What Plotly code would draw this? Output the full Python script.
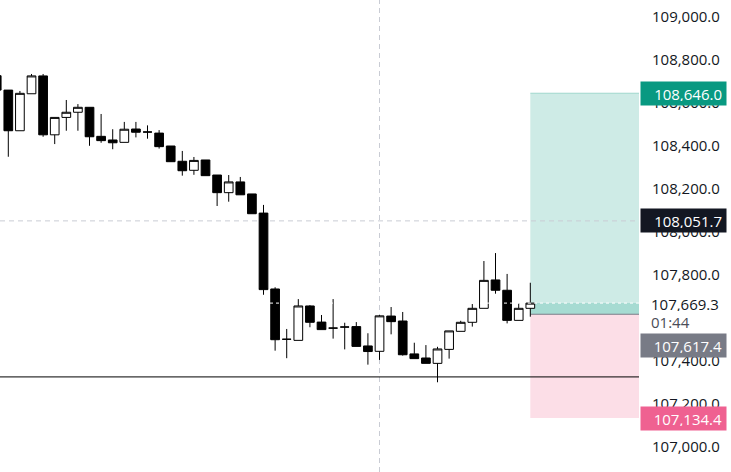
import plotly.graph_objects as go

# ---- data ----
idx = list(range(47))
opens = [108727, 108660, 108471, 108643, 108726, 108452, 108533, 108557, 108580, 108445,
         108428, 108417, 108479, 108465, 108460, 108400, 108329, 108287, 108335, 108265,
         108183, 108233, 108177, 108088, 107735, 107501, 107496, 107656, 107581, 107553,
         107558, 107560, 107470, 107445, 107609, 107586, 107433, 107414, 107389, 107454,
         107538, 107580, 107645, 107777, 107729, 107589, 107645]
highs = [108740, 108660, 108656, 108735, 108735, 108533, 108614, 108595, 108580, 108549,
         108478, 108512, 108512, 108496, 108474, 108400, 108377, 108349, 108335, 108265,
         108265, 108256, 108177, 108126, 107743, 107549, 107688, 107660, 107614, 107688,
         107578, 107581, 107529, 107614, 107651, 107628, 107485, 107474, 107466, 107540,
         107587, 107665, 107865, 107902, 107805, 107668, 107764]
lows = [108655, 108350, 108471, 108643, 108443, 108409, 108471, 108471, 108401, 108415,
        108385, 108417, 108440, 108434, 108388, 108327, 108262, 108266, 108262, 108121,
        108141, 108173, 108085, 107708, 107448, 107413, 107496, 107557, 107546, 107504,
        107454, 107468, 107383, 107405, 107524, 107425, 107411, 107389, 107301, 107411,
        107538, 107560, 107645, 107713, 107575, 107589, 107606]
closes = [108660, 108471, 108645, 108726, 108452, 108533, 108557, 108580, 108443, 108425,
          108415, 108478, 108464, 108465, 108397, 108327, 108285, 108333, 108262, 108183,
          108233, 108173, 108085, 107732, 107499, 107501, 107656, 107580, 107546, 107553,
          107558, 107468, 107444, 107610, 107583, 107429, 107411, 107389, 107456, 107540,
          107580, 107645, 107775, 107729, 107589, 107645, 107669.3]

y_ticks = [107000 + 200 * i for i in range(11)]
y_tick_labels = [f"{v:,.1f}" for v in y_ticks]

take_profit = 108646.0
entry = 107617.4
stop_loss = 107134.4
last_price = 107669.3
crosshair_price = 108051.7
crosshair_idx = 33
level_line = 107326
position_start = 46
countdown = "01:44"

X_RANGE = [0.284, 55.37]
Y_RANGE = [106883.7, 109079.1]
FONT = "Open Sans"

fig = go.Figure()
fig.add_trace(go.Candlestick(
    x=idx, open=opens, high=highs, low=lows, close=closes,
    increasing=dict(line=dict(color="#000000", width=1), fillcolor="#ffffff"),
    decreasing=dict(line=dict(color="#000000", width=1), fillcolor="#000000"),
    whiskerwidth=0, showlegend=False, hoverinfo="skip",
))

shapes = [
    # long position: profit zone
    dict(type="rect", xref="x", yref="y", x0=position_start, x1=X_RANGE[1],
         y0=entry, y1=take_profit, fillcolor="rgba(8,153,129,0.2)",
         line=dict(width=0), layer="below"),
    dict(type="line", xref="x", yref="y", x0=position_start, x1=X_RANGE[1],
         y0=take_profit, y1=take_profit, line=dict(color="rgba(8,153,129,0.25)", width=1),
         layer="below"),
    # current open profit band
    dict(type="rect", xref="x", yref="y", x0=position_start, x1=X_RANGE[1],
         y0=entry, y1=last_price, fillcolor="rgba(8,153,129,0.2)",
         line=dict(width=0), layer="below"),
    # stop zone
    dict(type="rect", xref="x", yref="y", x0=position_start, x1=X_RANGE[1],
         y0=stop_loss, y1=entry, fillcolor="#fcdee7",
         line=dict(width=0), layer="below"),
    # entry line
    dict(type="line", xref="x", yref="y", x0=position_start, x1=X_RANGE[1],
         y0=entry, y1=entry, line=dict(color="#787b86", width=1), layer="below"),
    # horizontal level line
    dict(type="line", xref="x", yref="y", x0=X_RANGE[0], x1=X_RANGE[1],
         y0=level_line, y1=level_line, line=dict(color="#000000", width=1), layer="below"),
    # crosshair
    dict(type="line", xref="x", yref="paper", x0=crosshair_idx, x1=crosshair_idx,
         y0=0, y1=1, line=dict(color="#c9ccd4", width=1, dash="5px,4px"), layer="below"),
    dict(type="line", xref="x", yref="y", x0=X_RANGE[0], x1=X_RANGE[1],
         y0=crosshair_price, y1=crosshair_price,
         line=dict(color="#c9ccd4", width=1, dash="5px,4px"), layer="below"),
    # last price dotted line
    dict(type="line", xref="x", yref="y", x0=X_RANGE[0], x1=X_RANGE[1],
         y0=last_price, y1=last_price,
         line=dict(color="#ffffff", width=1, dash="dot"), layer="above"),
]

def price_label(price, bg, fg="#ffffff", yshift=0):
    return dict(xref="paper", yref="y", x=1, y=price, xanchor="left", yanchor="middle",
                xshift=1, yshift=yshift, text=f"{price:,.1f}", showarrow=False,
                bgcolor=bg, font=dict(family=FONT, size=15, color=fg),
                width=77, height=15, borderpad=4, align="right")

annotations = [
    price_label(take_profit, "#089981"),
    price_label(crosshair_price, "#131722", yshift=0),
    dict(xref="paper", yref="y", x=1, y=last_price, xanchor="left", yanchor="middle",
         xshift=9, text=f"{last_price:,.1f}", showarrow=False, bgcolor="#ffffff",
         font=dict(family=FONT, size=15, color="#131722"), width=77, height=15,
         borderpad=2, align="left"),
    dict(xref="paper", yref="y", x=1, y=last_price, xanchor="left", yanchor="middle",
         xshift=9, yshift=-18, text=countdown, showarrow=False, bgcolor="#ffffff",
         font=dict(family=FONT, size=15, color="#4a4d57"), width=77, height=15,
         borderpad=2, align="left"),
    price_label(entry, "#787b86", yshift=-31),
    price_label(stop_loss, "#ef6191"),
]

fig.update_layout(
    width=731, height=472,
    margin=dict(l=0, r=92, t=0, b=0),
    paper_bgcolor="#ffffff", plot_bgcolor="#ffffff",
    boxgap=0.25, boxgroupgap=0,
    shapes=shapes, annotations=annotations,
    xaxis=dict(range=X_RANGE, visible=False, rangeslider=dict(visible=False),
               showgrid=False, zeroline=False, fixedrange=True),
    yaxis=dict(range=Y_RANGE, side="right", tickvals=y_ticks, ticktext=y_tick_labels,
               showgrid=False, zeroline=False, showline=False, ticks="",
               ticklabelstandoff=12,
               tickfont=dict(family=FONT, size=15, color="#131722"), fixedrange=True),
    showlegend=False,
)

fig.write_html("out.html", config={"displayModeBar": False},
               post_script="document.body.style.margin='0';document.body.style.overflow='hidden';")
